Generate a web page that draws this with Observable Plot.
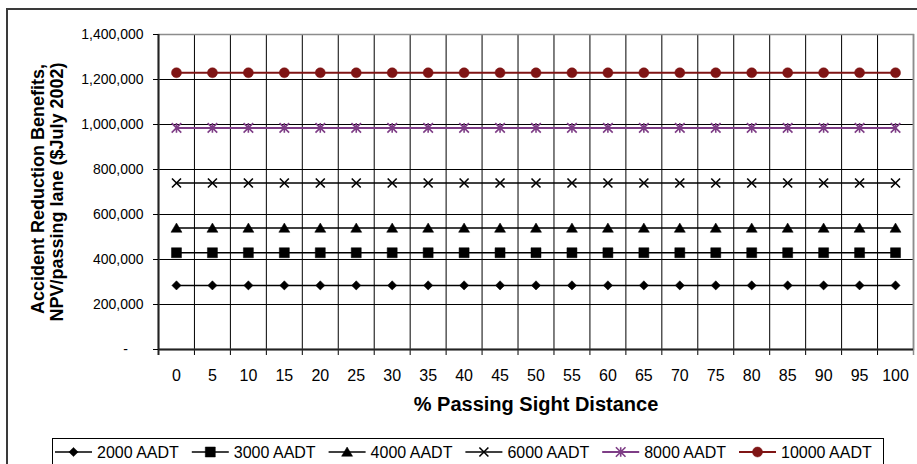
<!DOCTYPE html>
<html>
<head>
<meta charset="utf-8">
<script src="https://cdn.jsdelivr.net/npm/d3@7"></script>
<script src="https://cdn.jsdelivr.net/npm/@observablehq/plot@0.6"></script>
<style>
  html, body { margin: 0; padding: 0; background: #fff; }
  #page { position: relative; width: 917px; height: 464px; overflow: hidden;
          font-family: "Liberation Sans", Arial, sans-serif; }
  #frame { position: absolute; left: 6px; top: 8px; width: 940px; height: 480px;
           border: 2px solid #3a3a3a; box-sizing: border-box; }
  #chart { position: absolute; left: 0; top: 0; }
  #legend { position: absolute; left: 52px; top: 438px; width: 832px; height: 40px;
            border: 1px solid #000; box-sizing: border-box; background: #fff; }
  #legend text { font-family: "Liberation Sans", Arial, sans-serif; font-size: 16px; fill: #000; }
</style>
</head>
<body>
<div id="page">
  <div id="frame"></div>
  <div id="chart"></div>
  <div id="legend"></div>
</div>
<script>
// % passing sight distance categories (also the x tick labels)
const psd = [0, 5, 10, 15, 20, 25, 30, 35, 40, 45, 50, 55, 60, 65, 70, 75, 80, 85, 90, 95, 100];

// Accident reduction benefits, NPV per passing lane ($July 2002), by traffic volume
const aadt2000  = [285000, 285000, 285000, 285000, 285000, 285000, 285000, 285000, 285000, 285000, 285000,
                   285000, 285000, 285000, 285000, 285000, 285000, 285000, 285000, 285000, 285000];
const aadt3000  = [430000, 430000, 430000, 430000, 430000, 430000, 430000, 430000, 430000, 430000, 430000,
                   430000, 430000, 430000, 430000, 430000, 430000, 430000, 430000, 430000, 430000];
const aadt4000  = [540000, 540000, 540000, 540000, 540000, 540000, 540000, 540000, 540000, 540000, 540000,
                   540000, 540000, 540000, 540000, 540000, 540000, 540000, 540000, 540000, 540000];
const aadt6000  = [740000, 740000, 740000, 740000, 740000, 740000, 740000, 740000, 740000, 740000, 740000,
                   740000, 740000, 740000, 740000, 740000, 740000, 740000, 740000, 740000, 740000];
const aadt8000  = [985000, 985000, 985000, 985000, 985000, 985000, 985000, 985000, 985000, 985000, 985000,
                   985000, 985000, 985000, 985000, 985000, 985000, 985000, 985000, 985000, 985000];
const aadt10000 = [1230000, 1230000, 1230000, 1230000, 1230000, 1230000, 1230000, 1230000, 1230000, 1230000, 1230000,
                   1230000, 1230000, 1230000, 1230000, 1230000, 1230000, 1230000, 1230000, 1230000, 1230000];

const seriesNames = ["2000 AADT", "3000 AADT", "4000 AADT", "6000 AADT", "8000 AADT", "10000 AADT"];
const yTicks = [0, 200000, 400000, 600000, 800000, 1000000, 1200000, 1400000];

// Marker shapes (d3-symbol style: size = PI * r^2)
const rOf = size => Math.sqrt(size / Math.PI);
const diamondSym = { draw(c, s) { const r = rOf(s); c.moveTo(0, -r); c.lineTo(r, 0); c.lineTo(0, r); c.lineTo(-r, 0); c.closePath(); } };
const squareSym  = { draw(c, s) { const r = rOf(s); c.rect(-r, -r, 2 * r, 2 * r); } };
const triangleSym = { draw(c, s) { const r = rOf(s); c.moveTo(0, -r); c.lineTo(r * 1.1, r * 0.85); c.lineTo(-r * 1.1, r * 0.85); c.closePath(); } };
const timesSym = { draw(c, s) { const r = rOf(s); c.moveTo(-r, -r); c.lineTo(r, r); c.moveTo(-r, r); c.lineTo(r, -r); } };
const asteriskSym = { draw(c, s) { const r = rOf(s); c.moveTo(-r, -r); c.lineTo(r, r); c.moveTo(-r, r); c.lineTo(r, -r); c.moveTo(0, -r); c.lineTo(0, r); } };
const circleSym = { draw(c, s) { const r = rOf(s); c.moveTo(r, 0); c.arc(0, 0, r, 0, 2 * Math.PI); } };

const series = [
  { name: seriesNames[0], values: aadt2000,  color: "#000000", symbol: diamondSym,  r: 4.6, filled: true,  lw: 1.5 },
  { name: seriesNames[1], values: aadt3000,  color: "#000000", symbol: squareSym,   r: 5,   filled: true,  lw: 1.5 },
  { name: seriesNames[2], values: aadt4000,  color: "#000000", symbol: triangleSym, r: 5,   filled: true,  lw: 1.5 },
  { name: seriesNames[3], values: aadt6000,  color: "#000000", symbol: timesSym,    r: 4.5, filled: false, lw: 1.5 },
  { name: seriesNames[4], values: aadt8000,  color: "#7e3d86", symbol: asteriskSym, r: 4.8, filled: false, lw: 2 },
  { name: seriesNames[5], values: aadt10000, color: "#7f1515", symbol: circleSym,   r: 5,   filled: true,  lw: 2 }
];

// Category boundaries (gridlines sit between categories)
const step = psd[1] - psd[0];
const bounds = [...psd.map(p => p - step / 2), psd[psd.length - 1] + step / 2];

const fmtY = d => d === 0 ? "-\u2007\u2007" : d3.format(",")(d);

const seriesMarks = series.flatMap(s => {
  const rows = psd.map((p, i) => ({ pct: p, value: s.values[i] }));
  return [
    Plot.line(rows, { x: "pct", y: "value", stroke: s.color, strokeWidth: s.lw }),
    Plot.dot(rows, {
      x: "pct", y: "value", symbol: s.symbol, r: s.r,
      fill: s.filled ? s.color : "none",
      stroke: s.color, strokeWidth: s.filled ? 0.5 : 1.6
    })
  ];
});

const chart = Plot.plot({
  width: 917,
  height: 430,
  marginLeft: 158,
  marginRight: 4,
  marginTop: 34,
  marginBottom: 81,
  style: { fontFamily: "'Liberation Sans', Arial, sans-serif", color: "#000", background: "transparent" },
  x: { type: "linear", domain: [bounds[0], bounds[bounds.length - 1]], axis: null },
  y: { domain: [yTicks[0], yTicks[yTicks.length - 1]], axis: null },
  marks: [
    // horizontal gridlines
    Plot.ruleY(yTicks.slice(1, -1), { stroke: "#000", strokeWidth: 1 }),
    // vertical gridlines between categories, continuing as ticks below the axis
    Plot.ruleX(bounds.slice(1, -1), { stroke: "#000", strokeWidth: 1, insetBottom: -6 }),
    // plot-area border
    Plot.frame({ stroke: "#8c8c8c", strokeWidth: 1.5 }),
    Plot.ruleX([bounds[bounds.length - 1]], { stroke: "#8c8c8c", strokeWidth: 1.5, insetBottom: -6 }),
    // axis lines
    Plot.ruleX([bounds[0]], { stroke: "#222", strokeWidth: 2, insetBottom: -6 }),
    Plot.ruleY([yTicks[0]], { stroke: "#222", strokeWidth: 2 }),
    Plot.axisY(yTicks, { tickSize: 5, tickPadding: 10, fontSize: 14, tickFormat: fmtY, label: null }),
    Plot.axisX(psd, { tickSize: 0, tickPadding: 20, fontSize: 16, label: null }),
    // axis titles
    Plot.text(["% Passing Sight Distance"], {
      frameAnchor: "bottom", dy: 55, textAnchor: "middle", lineAnchor: "middle", fontSize: 20, fontWeight: "bold"
    }),
    Plot.text(["Accident Reduction Benefits,"], {
      frameAnchor: "left", rotate: -90, dx: -120.5, dy: -3, textAnchor: "middle", lineAnchor: "middle",
      fontSize: 18, fontWeight: "bold"
    }),
    Plot.text(["NPV/passing lane ($July 2002)"], {
      frameAnchor: "left", rotate: -90, dx: -101.5, dy: 0, textAnchor: "middle", lineAnchor: "middle",
      fontSize: 18, fontWeight: "bold"
    }),
    ...seriesMarks
  ]
});
document.getElementById("chart").appendChild(chart);

// Legend row
const lsvg = d3.select("#legend").append("svg").attr("width", 830).attr("height", 38);
series.forEach((s, k) => {
  const g = lsvg.append("g").attr("transform", `translate(${2 + 136.8 * k},13)`);
  g.append("line").attr("x1", 0).attr("x2", 37).attr("y1", 0).attr("y2", 0)
    .attr("stroke", s.color).attr("stroke-width", s.lw);
  g.append("path")
    .attr("transform", "translate(18.5,0)")
    .attr("d", d3.symbol(s.symbol, Math.PI * s.r * s.r)())
    .attr("fill", s.filled ? s.color : "none")
    .attr("stroke", s.color)
    .attr("stroke-width", s.filled ? 0.5 : 1.6);
  g.append("text").attr("x", 42).attr("dy", "0.35em").text(s.name);
});
</script>
</body>
</html>
